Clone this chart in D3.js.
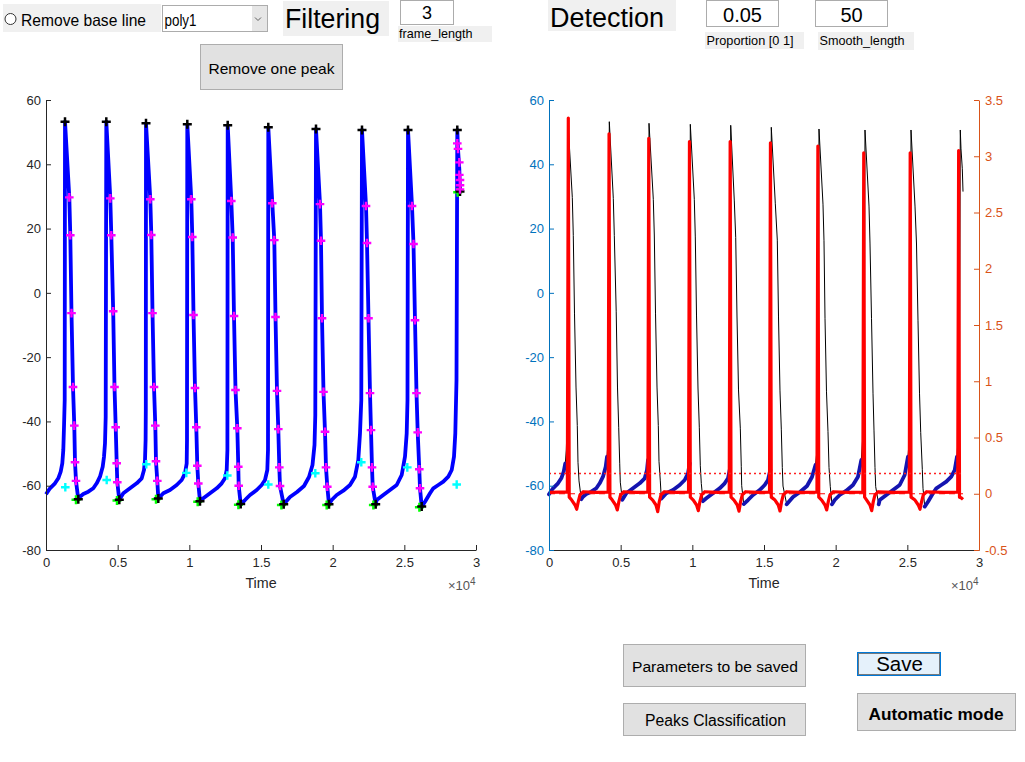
<!DOCTYPE html>
<html>
<head>
<meta charset="utf-8">
<script src="https://cdn.jsdelivr.net/npm/d3@7"></script>
<style>
  body { margin: 0; background: #fff; }
  svg { display: block; font-family: "Liberation Sans", Arial, Helvetica, sans-serif; }
</style>
</head>
<body>
<svg id="fig" width="1025" height="762"></svg>
<script>
// ---- data (time in samples, membrane potential in mV) ----
const xTicks = [0, 5000, 10000, 15000, 20000, 25000, 30000];
const yTicks = [-80, -60, -40, -20, 0, 20, 40, 60];
const y2Ticks = [-0.5, 0, 0.5, 1, 1.5, 2, 2.5, 3, 3.5];

const trace = [
  [0,-62.67],[279,-60.80],[628,-59.25],[858,-57.69],[1026,-55.64],[1137,-53.03],[1207,-48.89],[1256,-41.64],[1305,-33.33],
  [1326,53.25],[1626,29.7],[1695,17.9],[1779,-6.3],[1884,-29.3],[1974,-41.3],[2023,-52.7],[2093,-58.5],[2253,-64.2],
  [2372,-63.42],[2602,-62.58],[2951,-61.86],[3300,-60.80],[3537,-59.25],[3767,-57.20],[3956,-54.08],[4047,-50.97],[4116,-46.81],[4165,-38.53],
  [4207,53.25],[4486,29.4],[4556,17.9],[4688,-5.7],[4779,-29.3],[4863,-41.8],[4933,-53.0],[4974,-58.9],[5114,-64.4],
  [5393,-62.36],[5860,-60.80],[6328,-59.25],[6677,-57.69],[6837,-55.11],[6907,-52.00],[6949,-45.78],[6963,-36.44],
  [6977,52.75],[7277,29.1],[7347,18.0],[7431,-6.3],[7535,-29.3],[7626,-41.3],[7674,-52.4],[7765,-58.5],[7835,-64.0],
  [8184,-62.36],[8651,-61.33],[9119,-59.78],[9467,-58.22],[9698,-56.14],[9816,-53.03],[9837,-45.78],
  [9858,52.44],[10137,29.1],[10207,17.4],[10291,-6.9],[10395,-29.6],[10486,-41.8],[10556,-53.8],[10626,-59.3],[10744,-64.8],
  [10974,-63.92],[11442,-62.36],[11909,-60.80],[12258,-59.25],[12488,-57.69],[12607,-55.11],[12656,-48.89],
  [12677,52.13],[12928,28.6],[13026,17.2],[13116,-7.2],[13221,-30.2],[13347,-42.1],[13416,-54.1],[13444,-60.0],[13584,-65.7],
  [13884,-64.45],[14233,-62.89],[14700,-61.33],[15049,-59.78],[15279,-58.22],[15440,-55.11],[15488,-48.89],
  [15509,51.51],[15788,27.9],[15928,16.4],[16012,-7.5],[16116,-30.5],[16207,-42.4],[16277,-54.3],[16326,-60.1],[16584,-65.8],
  [17023,-63.51],[17512,-61.96],[18000,-60.09],[18349,-57.29],[18593,-53.56],[18733,-47.33],[18788,-38.00],
  [18837,50.98],[19116,27.6],[19186,16.2],[19256,-7.9],[19360,-30.8],[19465,-43.2],[19535,-54.3],[19625,-60.3],[19744,-65.8],
  [19932,-64.45],[20281,-62.89],[20742,-61.55],[21209,-59.78],[21558,-57.20],[21788,-52.00],[21907,-43.70],[21997,-33.33],
  [22046,50.67],[22326,27.0],[22395,15.5],[22500,-7.9],[22605,-31.2],[22674,-42.7],[22744,-54.3],[22793,-60.3],[23002,-65.8],
  [23072,-64.45],[23532,-62.89],[24000,-61.33],[24467,-59.78],[24816,-56.67],[25046,-50.97],[25165,-43.70],[25221,-33.33],
  [25256,50.67],[25535,27.0],[25640,15.2],[25744,-8.5],[25849,-31.2],[25933,-43.4],[26044,-54.9],[26093,-60.8],[26212,-66.5],
  [26442,-64.97],[26791,-62.36],[27021,-60.80],[27370,-59.78],[27719,-58.75],[28068,-57.20],[28305,-55.11],[28465,-50.97],[28556,-43.70],[28640,-27.11],
  [28695,50.67],[28744,44.8],[28835,38.6],[28884,31.5]
];

const peakT = [1326, 4207, 6977, 9858, 12677, 15509, 18837, 22046, 25256, 28695];
const peakV = [53.25, 53.25, 52.75, 52.44, 52.13, 51.51, 50.98, 50.67, 50.67, 50.67];

const minT = [2253, 5114, 7835, 10744, 13584, 16584, 19744, 23002, 26212, 28884];
const minV = [-64.2, -64.4, -64.0, -64.8, -65.7, -65.8, -65.8, -65.8, -66.5, 31.5];
const greenT = [2093, 4954, 7675, 10584, 13424, 16424, 19584, 22842, 26052, 28724];
const greenV = [-64.4, -64.6, -64.2, -65.0, -65.9, -66.0, -66.0, -66.0, -66.7, 31.3];

const cyanT = [1347, 4235, 6998, 9788, 12649, 15509, 18788, 21997, 25207, 28653];
const cyanV = [-60.5, -58.2, -53.3, -56.0, -56.8, -59.6, -56.1, -52.7, -54.3, -59.6];

const apdT = [
  [1626, 1695, 1779, 1884, 1974, 2023, 2093],
  [4486, 4556, 4688, 4779, 4863, 4933, 4974],
  [7277, 7347, 7431, 7535, 7626, 7674, 7765],
  [10137, 10207, 10291, 10395, 10486, 10556, 10626],
  [12928, 13026, 13116, 13221, 13347, 13416, 13444],
  [15788, 15928, 16012, 16116, 16207, 16277, 16326],
  [19116, 19186, 19256, 19360, 19465, 19535, 19625],
  [22326, 22395, 22500, 22605, 22674, 22744, 22793],
  [25535, 25640, 25744, 25849, 25933, 26044, 26093],
  [28695, 28744, 28835, 28835, 28884, 28884, 28884]
];
const apdV = [
  [29.7, 17.9, -6.3, -29.3, -41.3, -52.7, -58.5],
  [29.4, 17.9, -5.7, -29.3, -41.8, -53.0, -58.9],
  [29.1, 18.0, -6.3, -29.3, -41.3, -52.4, -58.5],
  [29.1, 17.4, -6.9, -29.6, -41.8, -53.8, -59.3],
  [28.6, 17.2, -7.2, -30.2, -42.1, -54.1, -60.0],
  [27.9, 16.4, -7.5, -30.5, -42.4, -54.3, -60.1],
  [27.6, 16.2, -7.9, -30.8, -43.2, -54.3, -60.3],
  [27.0, 15.5, -7.9, -31.2, -42.7, -54.3, -60.3],
  [27.0, 15.2, -8.5, -31.2, -43.4, -54.9, -60.8],
  [46.5, 44.8, 40.6, 36.7, 35.1, 33.5, 32.2]
];

// smoothed detection signal (right axis)
const detect = [
  [0,0.012],[700,0.014],[1280,0.015],[1347,3.34],[1410,-0.03],[1583,-0.056],[1813,-0.1],[1933,-0.138],[2043,-0.07],[2163,-0.01],[2393,0.018],[3300,0.012],
  [4125,0.015],[4190,3.20],[4250,-0.03],[4415,-0.056],[4645,-0.1],[4765,-0.144],[4875,-0.07],[4995,-0.01],[5225,0.018],[6100,0.012],
  [6895,0.015],[6960,3.16],[7020,-0.03],[7234,-0.056],[7464,-0.1],[7584,-0.159],[7694,-0.07],[7814,-0.01],[8044,0.018],[8900,0.012],
  [9735,0.015],[9800,3.13],[9860,-0.03],[10066,-0.056],[10296,-0.1],[10416,-0.150],[10526,-0.07],[10646,-0.01],[10876,0.018],[11800,0.012],
  [12575,0.015],[12640,3.13],[12700,-0.03],[12906,-0.056],[13136,-0.1],[13256,-0.155],[13366,-0.07],[13486,-0.01],[13716,0.018],[14600,0.012],
  [15385,0.015],[15450,3.12],[15510,-0.03],[15766,-0.056],[15996,-0.1],[16116,-0.153],[16226,-0.07],[16346,-0.01],[16576,0.018],[17600,0.012],
  [18695,0.015],[18760,3.09],[18820,-0.03],[19024,-0.056],[19254,-0.1],[19374,-0.144],[19484,-0.07],[19604,-0.01],[19834,0.018],[20900,0.012],
  [21895,0.015],[21960,3.03],[22020,-0.03],[22164,-0.056],[22394,-0.1],[22514,-0.150],[22624,-0.07],[22744,-0.01],[22974,0.018],[24100,0.012],
  [25135,0.015],[25200,3.03],[25260,-0.03],[25534,-0.056],[25764,-0.1],[25884,-0.138],[25994,-0.07],[26114,-0.01],[26344,0.018],[27500,0.012],
  [28515,0.015],[28580,3.05],[28640,-0.03],[28750,-0.035],[28884,-0.05]
];
const detectThreshold = 0.18;
const detectBase = 0;
const traceEnd = 28884;

// ---- drawing ----
const svg = d3.select('#fig');
const AX = '#262626', BLUE_AX = '#0072BD', ORANGE_AX = '#D95319';

function box(x, y, w, h, fill, stroke) {
  return svg.append('rect').attr('x', x).attr('y', y).attr('width', w).attr('height', h)
    .attr('fill', fill).attr('stroke', stroke || 'none').attr('stroke-width', 1);
}
function label(x, y, s, size, opt = {}) {
  const t = svg.append('text').attr('x', x).attr('y', y).text(s)
    .attr('font-size', size).attr('fill', opt.fill || '#000')
    .attr('text-anchor', opt.anchor || 'start');
  if (opt.bold) t.attr('font-weight', 'bold');
  if (opt.len) t.attr('textLength', opt.len).attr('lengthAdjust', 'spacingAndGlyphs');
  return t;
}

// controls, top left
box(3, 4, 158, 28, '#f0f0f0');
svg.append('circle').attr('cx', 10.5).attr('cy', 19).attr('r', 5.5).attr('fill', '#fff').attr('stroke', '#333');
label(21, 25.5, 'Remove base line', 16.5, { len: 125 });
box(162.5, 5.5, 105, 26, '#fff', '#acacac');
box(252, 6, 15, 25, '#e6e6e6');
svg.append('path').attr('d', 'M255,17.5L258,20.5L261,17.5').attr('fill', 'none').attr('stroke', '#606060');
label(164.5, 26, 'poly1', 16.5, { len: 32 });
box(283, 1, 106, 35, '#f0f0f0');
label(285, 27.5, 'Filtering', 27, { len: 95 });
box(400.5, 0.5, 53, 24, '#fff', '#acacac');
label(427, 19, '3', 18, { anchor: 'middle' });
box(398, 26, 94, 16, '#f0f0f0');
label(399, 37.5, 'frame_length', 12.6, { len: 73.5 });
box(200.5, 44.5, 142, 45, '#e1e1e1', '#adadad');
label(271.5, 73.5, 'Remove one peak', 15, { anchor: 'middle', len: 126 });

// controls, top right
box(548, 0, 128, 31, '#f0f0f0');
label(550, 26.5, 'Detection', 27.5, { len: 114 });
box(706.5, 0.5, 72, 26, '#fff', '#acacac');
label(742.5, 21.5, '0.05', 20, { anchor: 'middle' });
box(815.5, 0.5, 72, 26, '#fff', '#acacac');
label(851.5, 21.5, '50', 20, { anchor: 'middle' });
box(705, 32, 99, 17, '#f0f0f0');
label(706.5, 45, 'Proportion [0 1]', 12.5, { len: 87 });
box(818, 32, 96, 18, '#f0f0f0');
label(819.5, 45, 'Smooth_length', 12.6, { len: 85 });

// buttons, bottom
box(623.5, 644.5, 182, 42, '#e1e1e1', '#adadad');
label(715, 671.5, 'Parameters to be saved', 15.5, { anchor: 'middle', len: 166 });
box(623.5, 703.5, 182, 32, '#e1e1e1', '#adadad');
label(715.5, 725.5, 'Peaks Classification', 15.8, { anchor: 'middle', len: 141 });
box(857.5, 652.5, 83, 23, '#e5f1fb', '#0078d7');
box(858.5, 653.5, 81, 21, 'none', '#000').attr('stroke-dasharray', '1,1');
label(899.5, 670.5, 'Save', 20.5, { anchor: 'middle', len: 46.7 });
box(857.5, 693.5, 158, 37, '#e1e1e1', '#adadad');
label(936, 720, 'Automatic mode', 17.2, { anchor: 'middle', bold: true, len: 135 });

// scales
const y = d3.scaleLinear().domain([-80, 60]).range([550, 100]);
const y2 = d3.scaleLinear().domain([-0.5, 3.5]).range([550, 100]);
const xL = d3.scaleLinear().domain([0, 30000]).range([46, 476]);
const xR = d3.scaleLinear().domain([0, 30000]).range([549, 979]);

function styleAxis(g, color) {
  g.attr('font-family', '"Liberation Sans", Arial, Helvetica, sans-serif').attr('font-size', 13);
  g.select('.domain').attr('stroke', color);
  g.selectAll('.tick line').attr('stroke', color);
  g.selectAll('.tick text').attr('fill', color);
}
function bottomAxis(x, color) {
  const g = svg.append('g').attr('transform', 'translate(0,550)')
    .call(d3.axisBottom(x).tickValues(xTicks).tickFormat(d => String(d / 1e4))
      .tickSizeInner(-5).tickSizeOuter(0).tickPadding(8));
  styleAxis(g, color);
  const r = x.range()[1];
  svg.append('text').attr('x', r - 6).attr('y', 590).attr('text-anchor', 'end')
    .attr('font-size', 13).attr('fill', '#555').text('\u00d710');
  svg.append('text').attr('x', r - 6).attr('y', 584.5).attr('font-size', 10).attr('fill', '#555').text('4');
  svg.append('text').attr('x', (x.range()[0] + r) / 2).attr('y', 588).attr('text-anchor', 'middle')
    .attr('font-size', 14.3).attr('fill', color).text('Time');
}
function leftAxis(x0, color) {
  const g = svg.append('g').attr('transform', `translate(${x0},0)`)
    .call(d3.axisLeft(y).tickValues(yTicks).tickFormat(d => String(d))
      .tickSizeInner(-5).tickSizeOuter(0).tickPadding(5));
  styleAxis(g, color);
}

const line = (xs, ys) => d3.line().x(d => xs(d[0])).y(d => ys(d[1]));

// ---- left axes: trace with markers ----
const left = svg.append('g');
left.append('path').datum(trace).attr('d', line(xL, y))
  .attr('fill', 'none').attr('stroke', '#0000ff').attr('stroke-width', 3.8)
  .attr('stroke-linejoin', 'round');

function plus(g, xs, vs, xScale, color, half, width) {
  g.append('g').selectAll('path').data(d3.zip(xs, vs)).join('path')
    .attr('d', d => {
      const px = xScale(d[0]), py = y(d[1]);
      return `M${px - half},${py}H${px + half}M${px},${py - half}V${py + half}`;
    })
    .attr('stroke', color).attr('stroke-width', width).attr('fill', 'none');
}
plus(left, peakT, peakV, xL, '#000', 4.5, 2.5);
plus(left, greenT, greenV, xL, '#00ff00', 4.5, 2.5);
plus(left, minT, minV, xL, '#000', 4.5, 2.5);
plus(left, apdT.flat(), apdV.flat(), xL, '#ff00ff', 4.3, 2.4);
plus(left, cyanT, cyanV, xL, '#00ffff', 4.3, 2.4);

bottomAxis(xL, AX);
leftAxis(46, AX);

// ---- right axes: raw trace, rising phases, detection signal ----
const right = svg.append('g');
right.append('path').datum(trace).attr('d', line(xR, y))
  .attr('fill', 'none').attr('stroke', '#000').attr('stroke-width', 1);

function rising(d) {
  for (let k = 0; k < peakT.length; k++) {
    const start = k === 0 ? 0 : minT[k - 1];
    if (d[0] >= start && d[0] < peakT[k]) return d[1] <= -50;
  }
  return false;
}
right.append('path').datum(trace)
  .attr('d', line(xR, y).defined(rising))
  .attr('fill', 'none').attr('stroke', '#1414b0').attr('stroke-width', 3.8)
  .attr('stroke-linejoin', 'round').attr('stroke-linecap', 'round');

right.append('path').datum([[0, detectBase], [traceEnd, detectBase]]).attr('d', line(xR, y2))
  .attr('stroke', '#ff0000').attr('stroke-width', 1).attr('stroke-dasharray', '6,4').attr('fill', 'none');
right.append('path').datum(detect).attr('d', line(xR, y2))
  .attr('fill', 'none').attr('stroke', '#ff0000').attr('stroke-width', 3.2)
  .attr('stroke-linejoin', 'round');
right.append('path').datum([[0, detectThreshold], [traceEnd, detectThreshold]]).attr('d', line(xR, y2))
  .attr('stroke', '#ff2020').attr('stroke-width', 1.3).attr('stroke-dasharray', '2,3').attr('fill', 'none');

bottomAxis(xR, AX);
leftAxis(549, BLUE_AX);
const gR = svg.append('g').attr('transform', 'translate(979,0)')
  .call(d3.axisRight(y2).tickValues(y2Ticks).tickFormat(d => String(d))
    .tickSizeInner(-5).tickSizeOuter(0).tickPadding(6));
styleAxis(gR, ORANGE_AX);
</script>
</body>
</html>
